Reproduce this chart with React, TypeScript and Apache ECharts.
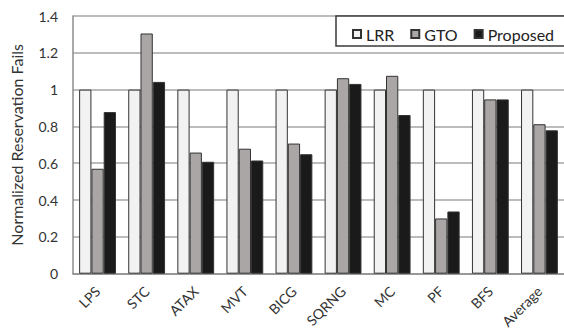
import React, { useEffect, useRef } from "react";
import * as echarts from "echarts";

const categories = ["LPS", "STC", "ATAX", "MVT", "BICG", "SQRNG", "MC", "PF", "BFS", "Average"];
const lrr = [1, 1, 1, 1, 1, 1, 1, 1, 1, 1];
const gto = [0.57, 1.305, 0.658, 0.679, 0.707, 1.062, 1.075, 0.30, 0.947, 0.812];
const proposed = [0.878, 1.042, 0.608, 0.615, 0.649, 1.031, 0.862, 0.338, 0.947, 0.779];
const seriesNames = ["LRR", "GTO", "Proposed"];
const yTicks = [0, 0.2, 0.4, 0.6, 0.8, 1, 1.2, 1.4];

const FONT = "Lato";

export default function App() {
  const ref = useRef<HTMLDivElement>(null);
  useEffect(() => {
    if (!ref.current) return;
    const chart = echarts.init(ref.current, undefined, { renderer: "svg" });
    const colors = ["#f2f2f2", "#aaa6a6", "#1a1a1a"];
    const datas = [lrr, gto, proposed];
    chart.setOption({
      animation: false,
      textStyle: { fontFamily: FONT },
      grid: { left: 73, top: 16, width: 493, height: 262, containLabel: false },
      graphic: [
        {
          type: "rect",
          z: 100,
          shape: { x: 336, y: 16, width: 240, height: 30 },
          style: { fill: "#ffffff", stroke: "#3a3a3a", lineWidth: 1.5 },
        },
      ],
      legend: {
        z: 200,
        left: 347,
        top: 21,
        itemWidth: 8,
        itemHeight: 8,
        itemGap: 16,
        icon: "rect",
        textStyle: { fontFamily: FONT, fontSize: 16, color: "#222" },
        data: seriesNames,
      },
      xAxis: {
        type: "category",
        data: categories,
        axisLine: { lineStyle: { color: "#8c8c8c", width: 1.5 } },
        axisTick: { show: false },
        axisLabel: { rotate: 45, fontSize: 14, color: "#333", margin: 15, fontFamily: FONT },
      },
      yAxis: {
        type: "value",
        min: 0,
        max: 1.4,
        interval: 0.2,
        name: "Normalized Reservation Fails",
        nameLocation: "middle",
        nameGap: 49,
        nameTextStyle: { fontSize: 16, color: "#333", fontFamily: FONT },
        axisLine: { show: true, lineStyle: { color: "#8c8c8c", width: 1.5 } },
        axisTick: { show: false },
        axisLabel: {
          fontSize: 14,
          color: "#333",
          margin: 15,
          fontFamily: FONT,
          formatter: (v: number) => {
            const t = yTicks.find((x) => Math.abs(x - v) < 1e-6);
            return String(Math.round((t ?? v) * 10) / 10);
          },
        },
        splitLine: { show: true, lineStyle: { color: "#a6a6a6", width: 1.5 } },
      },
      series: seriesNames.map((n, i) => ({
        name: n,
        type: "bar",
        data: datas[i],
        barGap: "0%",
        barCategoryGap: "25%",
        itemStyle: { color: colors[i], borderColor: "#333", borderWidth: 1 },
      })),
    });
    return () => chart.dispose();
  }, []);
  return (
    <div
      ref={ref}
      style={{ position: "absolute", left: 0, top: 0, width: 564, height: 331 }}
    />
  );
}
